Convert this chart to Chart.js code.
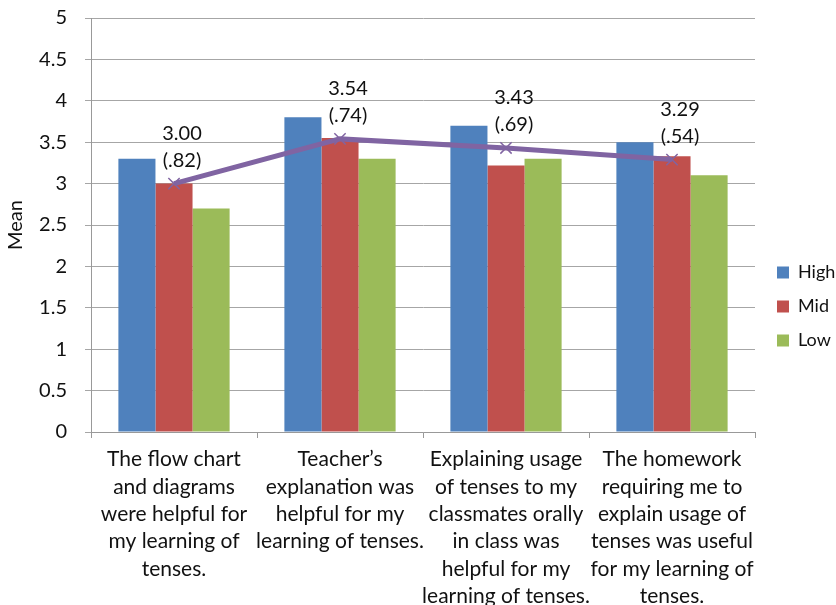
<!DOCTYPE html>
<html>
<head>
<meta charset="utf-8">
<script src="https://cdn.jsdelivr.net/npm/chart.js@4.4.0/dist/chart.umd.min.js"></script>
<style>
  html, body { margin: 0; padding: 0; background: #fff; }
  #wrap { width: 836px; height: 605px; }
</style>
</head>
<body>
<div id="wrap"><canvas id="meanChart" width="836" height="605"></canvas></div>
<script>
const categories = [
  ["The flow chart", "and diagrams", "were helpful for", "my learning of", "tenses."],
  ["Teacher\u2019s", "explanation was", "helpful for my", "learning of tenses."],
  ["Explaining usage", "of tenses to my", "classmates orally", "in class was", "helpful for my", "learning of tenses."],
  ["The homework", "requiring me to", "explain usage of", "tenses was useful", "for my learning of", "tenses."]
];
const highData = [3.3, 3.8, 3.7, 3.5];
const midData = [3.0, 3.55, 3.22, 3.33];
const lowData = [2.7, 3.3, 3.3, 3.1];
const meanData = [3.00, 3.54, 3.43, 3.29];
const sdLabels = ["(.82)", "(.74)", "(.69)", "(.54)"];

const fontFamily = "Lato, 'Liberation Sans', sans-serif";

// labels above the mean line: value and (SD)
const meanLabels = {
  id: 'meanLabels',
  afterDatasetsDraw(chart) {
    const ctx = chart.ctx;
    const meta = chart.getDatasetMeta(3);
    ctx.save();
    ctx.font = "20px " + fontFamily;
    ctx.fillStyle = "#111";
    ctx.textAlign = "center";
    ctx.textBaseline = "alphabetic";
    meta.data.forEach((pt, i) => {
      const x = pt.x + 8;
      ctx.fillText(sdLabels[i], x, pt.y - 17);
      ctx.fillText(meanData[i].toFixed(2), x, pt.y - 44);
    });
    ctx.restore();
  }
};

// nudge the legend a bit to the right and down, like the original
const legendShift = {
  id: 'legendShift',
  afterLayout(chart) {
    chart.legend.left += 6;
    chart.legend.right += 6;
    chart.legend.top += 4;
    chart.legend.bottom += 4;
  }
};

let mtx = document.getElementById('meanChart').getContext('2d');

let meanChart = new Chart(mtx, {
  type: "bar",
  data: {
    labels: categories,
    datasets: [{
      label: "High",
      backgroundColor: "#4F81BD",
      data: highData,
      order: 2,
    }, {
      label: "Mid",
      backgroundColor: "#C0504D",
      data: midData,
      order: 2,
    }, {
      label: "Low",
      backgroundColor: "#9BBB59",
      data: lowData,
      order: 2,
    }, {
      type: "line",
      label: "Mean",
      data: meanData,
      borderColor: "#8064A2",
      backgroundColor: "#8064A2",
      borderWidth: 5,
      pointStyle: "crossRot",
      pointRadius: 8,
      pointBorderWidth: 1.5,
      pointBorderColor: "#8064A2",
      order: 1,
    }]
  },
  plugins: [meanLabels, legendShift],
  options: {
    responsive: false,
    animation: false,
    layout: {
      padding: 0
    },
    datasets: {
      bar: {
        barPercentage: 1,
        categoryPercentage: 0.67,
      }
    },
    plugins: {
      legend: {
        position: 'right',
        maxWidth: 81,
        labels: {
          filter: (item) => item.text !== "Mean",
          boxWidth: 12,
          boxHeight: 12,
          padding: 16,
          color: "#111",
          font: { family: fontFamily, size: 18 },
        }
      },
      tooltip: { enabled: false },
    },
    scales: {
      x: {
        grid: {
          drawOnChartArea: false,
          drawTicks: true,
          tickLength: 6,
          color: "#999",
        },
        border: { color: "#999" },
        ticks: {
          maxRotation: 0,
          autoSkip: false,
          padding: 8,
          color: "#111",
          font: { family: fontFamily, size: 21, lineHeight: 1.3 },
        },
        afterFit(scale) { scale.height = 173; }
      },
      y: {
        min: 0,
        max: 5,
        grid: {
          color: "#a6a6a6",
          tickLength: 6,
        },
        border: { color: "#999" },
        ticks: {
          stepSize: 0.5,
          padding: 18,
          color: "#111",
          font: { family: fontFamily, size: 20 },
          callback: (v) => String(v),
        },
        title: {
          display: true,
          text: "Mean",
          color: "#111",
          font: { family: fontFamily, size: 20 },
        },
        afterFit(scale) {
          scale.width = 91;
          scale.paddingTop = 18;
        }
      }
    }
  }
});
</script>
</body>
</html>
